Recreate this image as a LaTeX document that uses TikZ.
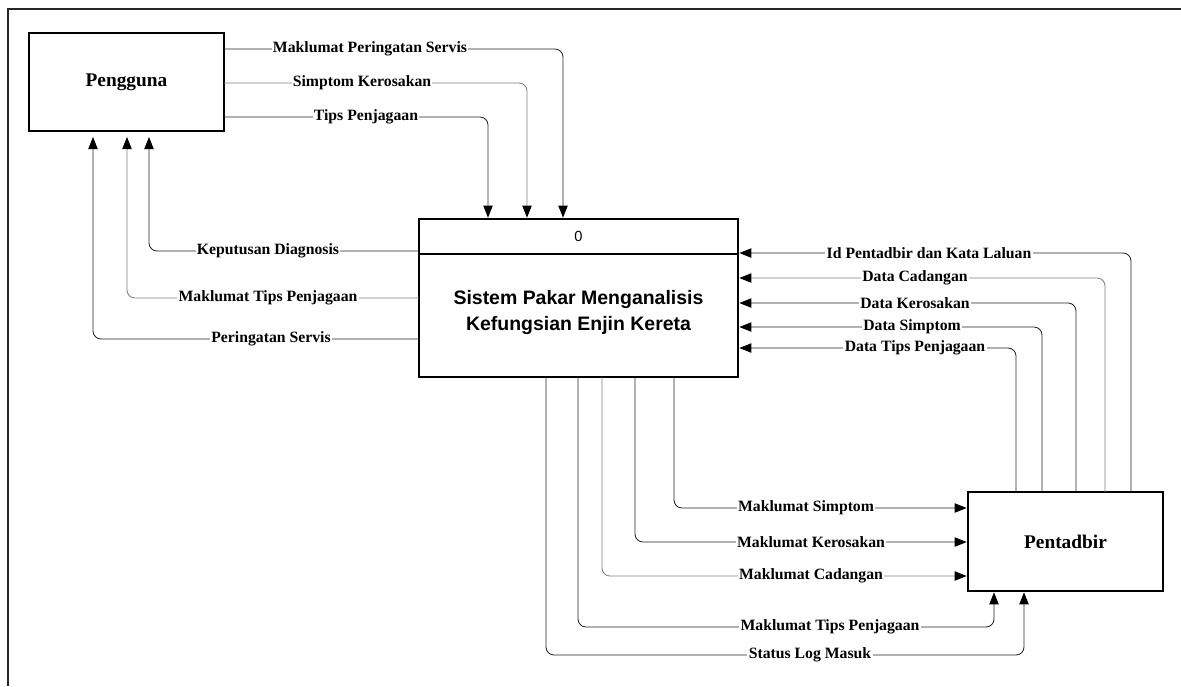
\documentclass[tikz,border=0pt]{standalone}
\usepackage{fontspec}
\setmainfont{Liberation Serif}
\newfontfamily\sysfont{Liberation Sans}
\usetikzlibrary{arrows.meta}

\tikzset{
  entity/.style={draw=black, line width=1.5pt, fill=white, inner sep=0pt, outer sep=0pt,
    font=\bfseries\fontsize{14.5}{17}\selectfont},
  flow/.style={draw=black!85, line width=0.65pt, rounded corners=6pt,
    -{Triangle[length=9pt,width=7pt,color=black]}, shorten >=1pt},
  flowlt/.style={flow, draw=black!50},
  lbl/.style={fill=white, inner xsep=1pt, inner ysep=0.5pt,
    font=\bfseries\fontsize{11.8}{13}\selectfont}
}

\begin{document}
\begin{tikzpicture}[x=0.75pt,y=-0.75pt]
\useasboundingbox (0,0) rectangle (1181,686);

% outer frame (top and left edges only)
\draw[line width=1.5pt, black!85] (1181,9) -- (8,9) -- (8,686);

% external entities and the process
\node[entity, minimum width=146.25pt, minimum height=73.5pt] (peng) at (126.5,82) {Pengguna};
\node[entity, minimum width=146.25pt, minimum height=74.25pt] (pent) at (1065.5,541.5) {Pentadbir};
\node[draw=black, line width=1.5pt, fill=white, inner sep=0pt, outer sep=0pt,
      minimum width=239.25pt, minimum height=118.5pt] (sys) at (578.5,298) {};
\draw[line width=1.5pt] (sys.west |- 0,254) coordinate (dl) -- (sys.east |- 0,254) coordinate (dr);
\node[font=\sysfont\fontsize{11}{12}\selectfont] (sysid) at (578.5,236) {0};
\node[align=center, font=\sysfont\bfseries\fontsize{14.6}{19.5}\selectfont] (systitle) at (578.5,313)
  {Sistem Pakar Menganalisis\\Kefungsian Enjin Kereta};

% Pengguna -> system
\draw[flow] (peng.east |- 0,49) -| (sys.north -| 563,0);
\draw[flowlt] (peng.east |- 0,83) -| (sys.north -| 527,0);
\draw[flow] (peng.east |- 0,117) -| (sys.north -| 488,0);
\node[lbl] (l1) at (370,49) {Maklumat Peringatan Servis};
\node[lbl] (l2) at (362,83) {Simptom Kerosakan};
\node[lbl] (l3) at (366,117) {Tips Penjagaan};

% system -> Pengguna
\draw[flow, shorten >=4.5pt] (sys.west |- 0,251) -| (peng.south -| 149,0);
\draw[flowlt, shorten >=4.5pt] (sys.west |- 0,298) -| (peng.south -| 127,0);
\draw[flow, shorten >=4.5pt] (sys.west |- 0,339) -| (peng.south -| 93,0);
\node[lbl] (l4) at (268,251) {Keputusan Diagnosis};
\node[lbl] (l5) at (268,298) {Maklumat Tips Penjagaan};
\node[lbl] (l6) at (271,339) {Peringatan Servis};

% Pentadbir -> system
\draw[flow] (pent.north -| 1131,0) |- (sys.east |- 0,253);
\draw[flowlt] (pent.north -| 1105,0) |- (sys.east |- 0,278);
\draw[flow] (pent.north -| 1076,0) |- (sys.east |- 0,303);
\draw[flow] (pent.north -| 1042,0) |- (sys.east |- 0,327);
\draw[flow] (pent.north -| 1016,0) |- (sys.east |- 0,348);
\node[lbl] (l7) at (929,253) {Id Pentadbir dan Kata Laluan};
\node[lbl] (l8) at (915,278) {Data Cadangan};
\node[lbl] (l9) at (915,303) {Data Kerosakan};
\node[lbl] (l10) at (912,327) {Data Simptom};
\node[lbl] (l11) at (915,348) {Data Tips Penjagaan};

% system -> Pentadbir
\draw[flow] (sys.south -| 674,0) |- (pent.west |- 0,508);
\draw[flow] (sys.south -| 635,0) |- (pent.west |- 0,542);
\draw[flowlt] (sys.south -| 602,0) |- (pent.west |- 0,576);
\draw[flow] (sys.south -| 578,0) |- (994,627) -- (pent.south -| 994,0);
\draw[flow] (sys.south -| 546,0) |- (1024,655) -- (pent.south -| 1024,0);
\node[lbl] (l12) at (806,508) {Maklumat Simptom};
\node[lbl] (l13) at (811,542) {Maklumat Kerosakan};
\node[lbl] (l14) at (811,576) {Maklumat Cadangan};
\node[lbl] (l15) at (830,627) {Maklumat Tips Penjagaan};
\node[lbl] (l16) at (810,655) {Status Log Masuk};
\end{tikzpicture}
\end{document}
